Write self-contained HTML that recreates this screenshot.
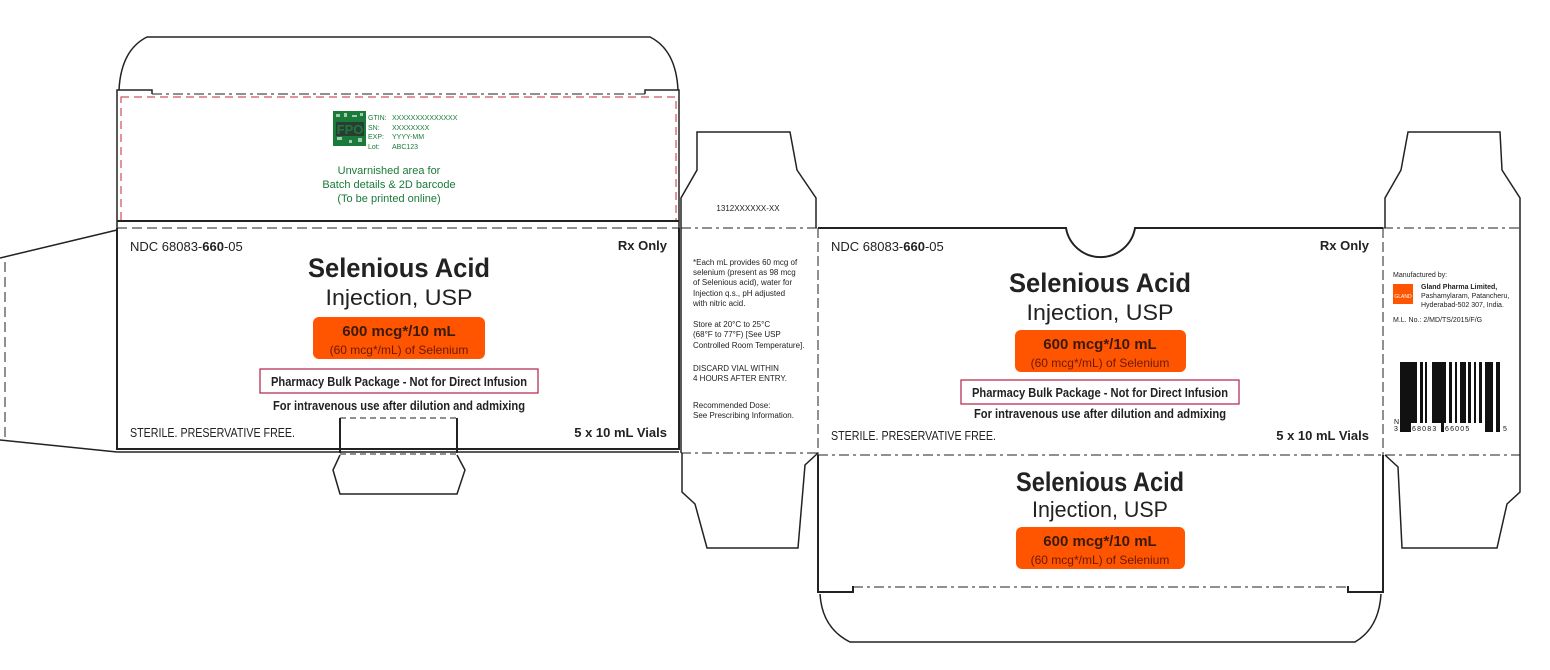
<!DOCTYPE html>
<html><head><meta charset="utf-8"><style>
html,body{margin:0;padding:0;background:#fff;}
svg{display:block;}
text{font-family:"Liberation Sans Narrow","Liberation Sans",sans-serif;}
</style></head><body>
<svg width="1550" height="670" viewBox="0 0 1550 670" xmlns="http://www.w3.org/2000/svg">
<g fill="none" stroke="#222" stroke-width="1.5">
<!-- LEFT PANEL -->
<path d="M119,90 Q121,50 147,37 L650,37 Q676,50 678,90"/>
<path d="M117,228 L117,90 L152,90 L152,94 M645,94 L645,90 L679,90 L679,228"/>
<line x1="152" y1="94" x2="645" y2="94" stroke-dasharray="10,4,3,4" stroke-width="1"/>
<rect x="121" y="97" width="555" height="124" stroke="#c0283a" stroke-dasharray="8,5" stroke-width="1"/>
<line x1="117" y1="221" x2="679" y2="221" stroke-width="2"/>
<line x1="117" y1="228" x2="679" y2="228" stroke-dasharray="10,5" stroke-width="1"/>
<path d="M117,228 L117,449 L679,449 L679,228" stroke-width="2"/>
<line x1="117" y1="452" x2="679" y2="452" stroke-width="1.5"/>
<path d="M117,230 L0,258"/>
<path d="M0,440 L117,452"/>
<line x1="5" y1="262" x2="5" y2="437" stroke-dasharray="10,5" stroke-width="1"/>
<path d="M340,453 L340,418 M457,418 L457,453" stroke-width="2"/>
<line x1="340" y1="418" x2="457" y2="418" stroke-dasharray="6,4" stroke-width="1"/>
<line x1="340" y1="454" x2="457" y2="454" stroke-dasharray="6,4" stroke-width="1"/>
<path d="M340,455 L333,470 L340,494 L457,494 L465,470 L457,455"/>
<!-- MIDDLE NARROW -->
<path d="M681,228 L681,198 L697,170 L697,132 L790,132 L797,170 L816,198 L816,228"/>
<line x1="681" y1="228" x2="818" y2="228" stroke-dasharray="10,4,3,4" stroke-width="1"/>
<line x1="681" y1="228" x2="681" y2="453"/>
<line x1="681" y1="453" x2="818" y2="453" stroke-dasharray="10,4,3,4" stroke-width="1"/>
<path d="M682,453 L682,492 L695,504 L707,548 L798,548 L805,465 L818,453"/>
<!-- RIGHT MAIN -->
<path d="M818,228 L1066,228 A35,35 0 0 0 1135,228 L1383,228" stroke-width="2"/>
<line x1="818" y1="228" x2="818" y2="455" stroke-dasharray="10,4" stroke-width="1"/>
<line x1="1383" y1="228" x2="1383" y2="455" stroke-dasharray="10,4" stroke-width="1"/>
<line x1="818" y1="455" x2="1520" y2="455" stroke-dasharray="10,4,3,4" stroke-width="1"/>
<path d="M818,455 L818,592 L853,592 L853,586 M1348,586 L1348,592 L1383,592 L1383,455" stroke-width="2"/>
<line x1="853" y1="587" x2="1348" y2="587" stroke-dasharray="10,4,3,4" stroke-width="1"/>
<path d="M820,594 Q822,628 850,642 L1355,642 Q1379,628 1381,594"/>
<!-- RIGHT NARROW -->
<path d="M1385,228 L1385,198 L1401,170 L1408,132 L1500,132 L1502,170 L1520,198 L1520,228"/>
<line x1="1383" y1="228" x2="1520" y2="228" stroke-dasharray="10,4,3,4" stroke-width="1"/>
<line x1="1520" y1="228" x2="1520" y2="455"/>
<path d="M1385,455 L1398,467 L1402,548 L1497,548 L1507,504 L1520,492 L1520,455"/>
</g>

<!-- QR / FPO -->
<rect x="333" y="111" width="33" height="35" fill="#1a7a3a"/>
<g fill="#fff" opacity="0.6">
<rect x="336" y="114" width="4" height="3"/><rect x="344" y="113" width="3" height="4"/><rect x="352" y="115" width="5" height="2"/><rect x="360" y="113" width="3" height="3"/>
<rect x="337" y="137" width="5" height="3"/><rect x="349" y="140" width="3" height="3"/><rect x="358" y="138" width="4" height="4"/>
</g>
<rect x="336" y="122" width="28" height="14" fill="#2c3b33"/>
<text x="350" y="134" font-size="13" fill="#1a7a3a" text-anchor="middle" font-weight="bold">FPO</text>
<g font-size="7" fill="#1a7a3a">
<text x="368" y="120">GTIN:</text><text x="392" y="120">XXXXXXXXXXXXXX</text>
<text x="368" y="130">SN:</text><text x="392" y="130">XXXXXXXX</text>
<text x="368" y="139">EXP:</text><text x="392" y="139">YYYY-MM</text>
<text x="368" y="149">Lot:</text><text x="392" y="149">ABC123</text>
</g>
<g font-size="11" fill="#1a7a3a" text-anchor="middle">
<text x="389" y="174">Unvarnished area for</text>
<text x="389" y="188">Batch details &amp; 2D barcode</text>
<text x="389" y="202">(To be printed online)</text>
</g>

<!-- LEFT main text -->
<g fill="#222">
<text x="130" y="251" font-size="13">NDC 68083-<tspan font-weight="bold">660</tspan>-05</text>
<text x="667" y="250" font-size="13" font-weight="bold" text-anchor="end">Rx Only</text>
<text x="399" y="277" font-size="27" font-weight="bold" text-anchor="middle" textLength="182" lengthAdjust="spacingAndGlyphs">Selenious Acid</text>
<text x="399" y="305" font-size="22" text-anchor="middle" textLength="147" lengthAdjust="spacingAndGlyphs">Injection, USP</text>
<rect x="313" y="317" width="172" height="42" rx="6" fill="#ff5500"/>
<text x="399" y="336" font-size="15" font-weight="bold" text-anchor="middle" fill="#3a1a0a">600 mcg*/10 mL</text>
<text x="399" y="354" font-size="12" text-anchor="middle" fill="#6a1a00">(60 mcg*/mL) of Selenium</text>
<rect x="260" y="369" width="278" height="24" fill="none" stroke="#b0224a" stroke-width="1.2"/>
<text x="399" y="386" font-size="13" font-weight="bold" text-anchor="middle" textLength="256" lengthAdjust="spacingAndGlyphs">Pharmacy Bulk Package - Not for Direct Infusion</text>
<text x="399" y="410" font-size="13" font-weight="bold" text-anchor="middle" textLength="252" lengthAdjust="spacingAndGlyphs">For intravenous use after dilution and admixing</text>
<text x="130" y="437" font-size="13" textLength="165" lengthAdjust="spacingAndGlyphs">STERILE. PRESERVATIVE FREE.</text>
<text x="667" y="437" font-size="13" font-weight="bold" text-anchor="end">5 x 10 mL Vials</text>
</g>

<!-- middle narrow text -->
<g fill="#222" font-size="8">
<text x="748" y="211" text-anchor="middle">1312XXXXXX-XX</text>
<text x="693" y="265">*Each mL provides 60 mcg of</text>
<text x="693" y="275">selenium (present as 98 mcg</text>
<text x="693" y="285">of Selenious acid), water for</text>
<text x="693" y="296">Injection q.s., pH adjusted</text>
<text x="693" y="306">with nitric acid.</text>
<text x="693" y="327">Store at 20°C to 25°C</text>
<text x="693" y="337">(68°F to 77°F) [See USP</text>
<text x="693" y="348">Controlled Room Temperature].</text>
<text x="693" y="371">DISCARD VIAL WITHIN</text>
<text x="693" y="381">4 HOURS AFTER ENTRY.</text>
<text x="693" y="408">Recommended Dose:</text>
<text x="693" y="418">See Prescribing Information.</text>
</g>

<!-- right main text -->
<g fill="#222">
<text x="831" y="251" font-size="13">NDC 68083-<tspan font-weight="bold">660</tspan>-05</text>
<text x="1369" y="250" font-size="13" font-weight="bold" text-anchor="end">Rx Only</text>
<text x="1100" y="292" font-size="27" font-weight="bold" text-anchor="middle" textLength="182" lengthAdjust="spacingAndGlyphs">Selenious Acid</text>
<text x="1100" y="320" font-size="22" text-anchor="middle" textLength="147" lengthAdjust="spacingAndGlyphs">Injection, USP</text>
<rect x="1015" y="330" width="171" height="42" rx="6" fill="#ff5500"/>
<text x="1100" y="349" font-size="15" font-weight="bold" text-anchor="middle" fill="#3a1a0a">600 mcg*/10 mL</text>
<text x="1100" y="367" font-size="12" text-anchor="middle" fill="#6a1a00">(60 mcg*/mL) of Selenium</text>
<rect x="961" y="380" width="278" height="24" fill="none" stroke="#b0224a" stroke-width="1.2"/>
<text x="1100" y="397" font-size="13" font-weight="bold" text-anchor="middle" textLength="256" lengthAdjust="spacingAndGlyphs">Pharmacy Bulk Package - Not for Direct Infusion</text>
<text x="1100" y="418" font-size="13" font-weight="bold" text-anchor="middle" textLength="252" lengthAdjust="spacingAndGlyphs">For intravenous use after dilution and admixing</text>
<text x="831" y="440" font-size="13" textLength="165" lengthAdjust="spacingAndGlyphs">STERILE. PRESERVATIVE FREE.</text>
<text x="1369" y="440" font-size="13" font-weight="bold" text-anchor="end">5 x 10 mL Vials</text>
<text x="1100" y="491" font-size="27" font-weight="bold" text-anchor="middle" textLength="168" lengthAdjust="spacingAndGlyphs">Selenious Acid</text>
<text x="1100" y="517" font-size="22" text-anchor="middle" textLength="136" lengthAdjust="spacingAndGlyphs">Injection, USP</text>
<rect x="1016" y="527" width="169" height="42" rx="6" fill="#ff5500"/>
<text x="1100" y="546" font-size="15" font-weight="bold" text-anchor="middle" fill="#3a1a0a">600 mcg*/10 mL</text>
<text x="1100" y="564" font-size="12" text-anchor="middle" fill="#6a1a00">(60 mcg*/mL) of Selenium</text>
</g>

<!-- right narrow -->
<g fill="#222" font-size="7">
<text x="1393" y="277">Manufactured by:</text>
<rect x="1393" y="284" width="20" height="20" fill="#ff5500"/>
<text x="1403" y="298" font-size="5" fill="#fff" text-anchor="middle">GLAND</text>
<text x="1421" y="289" font-weight="bold">Gland Pharma Limited,</text>
<text x="1421" y="298">Pashamylaram, Patancheru,</text>
<text x="1421" y="307">Hyderabad-502 307, India.</text>
<text x="1393" y="322">M.L. No.: 2/MD/TS/2015/F/G</text>
</g>
<g fill="#111">
<rect x="1400" y="362" width="17" height="70"/>
<rect x="1420" y="362" width="3" height="70"/>
<rect x="1425" y="362" width="2" height="70"/>
<rect x="1432" y="362" width="14" height="70"/>
<rect x="1449" y="362" width="3" height="70"/>
<rect x="1455" y="362" width="2" height="70"/>
<rect x="1460" y="362" width="6" height="70"/>
<rect x="1468" y="362" width="3" height="70"/>
<rect x="1474" y="362" width="2" height="70"/>
<rect x="1479" y="362" width="3" height="70"/>
<rect x="1485" y="362" width="8" height="70"/>
<rect x="1496" y="362" width="4" height="70"/>
</g>
<rect x="1411" y="423" width="30" height="10" fill="#fff"/>
<rect x="1444" y="423" width="40" height="10" fill="#fff"/>
<g fill="#111" font-size="7" font-family="Liberation Sans, sans-serif">
<text x="1394" y="424">N</text>
<text x="1394" y="431">3</text>
<text x="1412" y="431" letter-spacing="1.2">68083</text>
<text x="1445" y="431" letter-spacing="1.2">66005</text>
<text x="1503" y="431">5</text>
</g>
</svg>
</body></html>
